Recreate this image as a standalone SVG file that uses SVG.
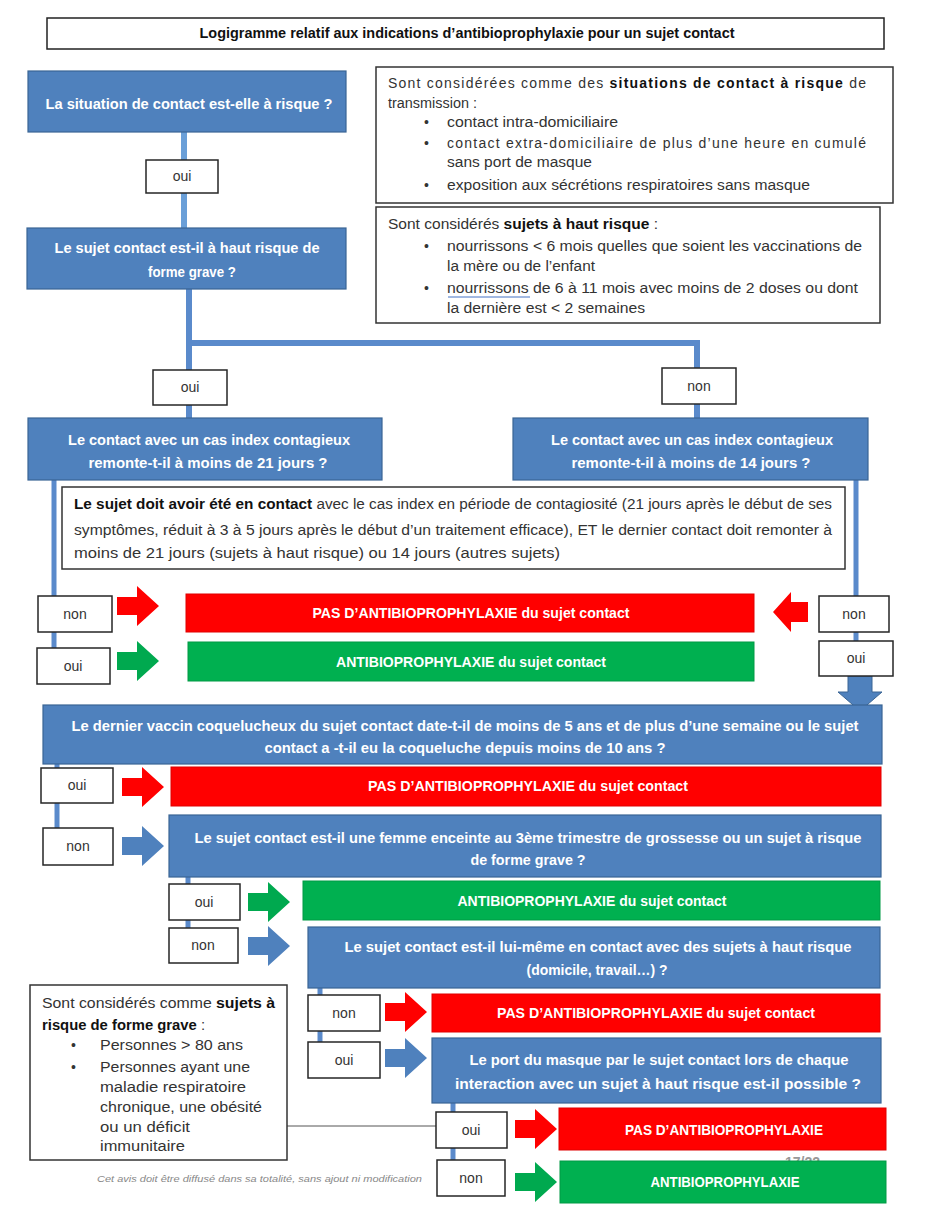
<svg xmlns="http://www.w3.org/2000/svg" xmlns:xlink="http://www.w3.org/1999/xlink" width="928" height="1227" viewBox="0 0 928 1227">
<style>
.bq{fill:#4F81BD;stroke:#3A6594;stroke-width:1.2}
.rd{fill:#FF0000;stroke:#E00000;stroke-width:1}
.gr{fill:#00B050;stroke:#009A45;stroke-width:1}
.lb{fill:#fff;stroke:#262626;stroke-width:1.5}
.info{fill:#fff;stroke:#333;stroke-width:1.5}
.wt{font-family:"Liberation Sans",Arial,sans-serif;font-weight:bold;fill:#fff;font-size:15px;text-anchor:middle}
.lt{font-family:"Liberation Sans",Arial,sans-serif;fill:#333;font-size:14px;text-anchor:middle}
.it{font-family:"Liberation Sans",Arial,sans-serif;fill:#333;font-size:14px}
.b{font-weight:bold;fill:#111}
.conn{stroke:#5A8ACB;fill:none}
.ar-r{fill:#FF0000}
.ar-g{fill:#00A94F}
.ar-b{fill:#4F81BD}
</style>
<defs>
<path id="arR" d="M0,-9 H20 V-20 L42,0 L20,20 V9 H0 Z"/>
<path id="arL" d="M0,0 L18,-20 V-10 H35 V10 H18 V20 Z"/>
</defs>

<g id="title">
<rect x="47" y="18" width="837" height="31" fill="#fff" stroke="#222" stroke-width="1.5"/>
<text x="467" y="38" font-family="Liberation Sans, Arial, sans-serif" font-weight="bold" font-size="14" fill="#111" text-anchor="middle" textLength="535" lengthAdjust="spacingAndGlyphs">Logigramme relatif aux indications d’antibioprophylaxie pour un sujet contact</text>
</g>

<g id="connectors">
<line class="conn" x1="184" y1="132" x2="184" y2="228" stroke-width="6" style="stroke:#6A9FD8"/>
<polyline class="conn" points="189,289 189,343 697,343 697,418" stroke-width="6"/>
<line class="conn" x1="189" y1="343" x2="189" y2="418" stroke-width="6"/>
<line class="conn" x1="54" y1="480" x2="54" y2="648" stroke-width="5"/>
<line class="conn" x1="856" y1="480" x2="856" y2="641" stroke-width="5"/>
<line class="conn" x1="57" y1="764" x2="57" y2="830" stroke-width="5"/>
<line class="conn" x1="188" y1="877" x2="188" y2="928" stroke-width="5"/>
<line class="conn" x1="320" y1="988" x2="320" y2="1044" stroke-width="5"/>
<line class="conn" x1="453" y1="1103" x2="453" y2="1160" stroke-width="5"/>
<line x1="287" y1="1126" x2="437" y2="1126" stroke="#555" stroke-width="1"/>
<path d="M848,676 H872 V692 H882 L860,711 L838,692 H848 Z" fill="#4F81BD" stroke="#3A6594" stroke-width="1"/>
</g>

<g id="q1">
<rect class="bq" x="28" y="71" width="318" height="61"/>
<text class="wt" x="189" y="109" textLength="287" lengthAdjust="spacingAndGlyphs">La situation de contact est-elle à risque ?</text>
</g>
<g id="lbl-oui1"><rect class="lb" x="146" y="160" width="72" height="33"/><text class="lt" x="182" y="181">oui</text></g>

<g id="q2">
<rect class="bq" x="27" y="228" width="319" height="61"/>
<text class="wt" x="187" y="253" textLength="265" lengthAdjust="spacingAndGlyphs">Le sujet contact est-il à haut risque de</text>
<text class="wt" x="192" y="277" textLength="88" lengthAdjust="spacingAndGlyphs">forme grave ?</text>
</g>

<g id="infoA">
<rect class="info" x="376" y="67" width="517" height="136"/>
<text class="it" x="388" y="88" textLength="478" lengthAdjust="spacing">Sont considérées comme des <tspan class="b">situations de contact à risque</tspan> de</text>
<text class="it" x="388" y="108" textLength="89" lengthAdjust="spacingAndGlyphs">transmission :</text>
<text class="it" x="424" y="127">•</text>
<text class="it" x="447" y="127" textLength="171" lengthAdjust="spacingAndGlyphs">contact intra-domiciliaire</text>
<text class="it" x="424" y="148">•</text>
<text class="it" x="447" y="148" textLength="419" lengthAdjust="spacing">contact extra-domiciliaire de plus d’une heure en cumulé</text>
<text class="it" x="447" y="167" textLength="145" lengthAdjust="spacingAndGlyphs">sans port de masque</text>
<text class="it" x="424" y="190">•</text>
<text class="it" x="447" y="190" textLength="363" lengthAdjust="spacingAndGlyphs">exposition aux sécrétions respiratoires sans masque</text>
</g>

<g id="infoB">
<rect class="info" x="376" y="207" width="504" height="116"/>
<text class="it" x="388" y="229" textLength="270" lengthAdjust="spacingAndGlyphs">Sont considérés <tspan class="b">sujets à haut risque</tspan> :</text>
<text class="it" x="424" y="251">•</text>
<text class="it" x="447" y="251" textLength="415" lengthAdjust="spacingAndGlyphs">nourrissons &lt; 6 mois quelles que soient les vaccinations de</text>
<text class="it" x="447" y="271" textLength="148" lengthAdjust="spacingAndGlyphs">la mère ou de l’enfant</text>
<text class="it" x="424" y="293">•</text>
<text class="it" x="447" y="293" textLength="411" lengthAdjust="spacingAndGlyphs">nourrissons de 6 à 11 mois avec moins de 2 doses ou dont</text>
<line x1="448" y1="297" x2="530" y2="297" stroke="#4472C4" stroke-width="1"/>
<text class="it" x="447" y="313" textLength="198" lengthAdjust="spacingAndGlyphs">la dernière est &lt; 2 semaines</text>
</g>

<g id="lbl-oui2"><rect class="lb" x="153" y="370" width="74" height="35"/><text class="lt" x="190" y="392">oui</text></g>
<g id="lbl-non2"><rect class="lb" x="662" y="368" width="74" height="36"/><text class="lt" x="699" y="391">non</text></g>

<g id="q3l">
<rect class="bq" x="28" y="418" width="354" height="62"/>
<text class="wt" x="209" y="445" textLength="282" lengthAdjust="spacingAndGlyphs">Le contact avec un cas index contagieux</text>
<text class="wt" x="208" y="468" textLength="239" lengthAdjust="spacingAndGlyphs">remonte-t-il à moins de 21 jours ?</text>
</g>
<g id="q3r">
<rect class="bq" x="513" y="418" width="355" height="62"/>
<text class="wt" x="692" y="445" textLength="282" lengthAdjust="spacingAndGlyphs">Le contact avec un cas index contagieux</text>
<text class="wt" x="691" y="468" textLength="239" lengthAdjust="spacingAndGlyphs">remonte-t-il à moins de 14 jours ?</text>
</g>

<g id="infoC">
<rect class="info" x="62" y="487" width="783" height="82"/>
<text class="it" x="74" y="509" textLength="758" lengthAdjust="spacingAndGlyphs"><tspan class="b">Le sujet doit avoir été en contact</tspan> avec le cas index en période de contagiosité (21 jours après le début de ses</text>
<text class="it" x="74" y="535" textLength="758" lengthAdjust="spacingAndGlyphs">symptômes, réduit à 3 à 5 jours après le début d’un traitement efficace), ET le dernier contact doit remonter à</text>
<text class="it" x="74" y="558" textLength="486" lengthAdjust="spacingAndGlyphs">moins de 21 jours (sujets à haut risque) ou 14 jours (autres sujets)</text>
</g>

<g id="lbl-non3l"><rect class="lb" x="38" y="596" width="74" height="36"/><text class="lt" x="75" y="619">non</text></g>
<use href="#arR" x="117" y="606" class="ar-r"/>
<g id="r1">
<rect class="rd" x="186" y="594" width="568" height="38"/>
<text class="wt" x="471" y="618" textLength="317" lengthAdjust="spacingAndGlyphs">PAS D’ANTIBIOPROPHYLAXIE du sujet contact</text>
</g>
<use href="#arL" x="773" y="612" class="ar-r"/>
<g id="lbl-non3r"><rect class="lb" x="819" y="596" width="70" height="36"/><text class="lt" x="854" y="619">non</text></g>

<g id="lbl-oui3l"><rect class="lb" x="37" y="648" width="73" height="36"/><text class="lt" x="73" y="671">oui</text></g>
<use href="#arR" x="117" y="661" class="ar-g"/>
<g id="g1">
<rect class="gr" x="188" y="642" width="566" height="39"/>
<text class="wt" x="471" y="667" textLength="270" lengthAdjust="spacingAndGlyphs">ANTIBIOPROPHYLAXIE du sujet contact</text>
</g>
<g id="lbl-oui3r"><rect class="lb" x="819" y="641" width="74" height="35"/><text class="lt" x="856" y="663">oui</text></g>

<g id="q4">
<rect class="bq" x="43" y="705" width="839" height="59"/>
<text class="wt" x="465" y="731" textLength="787" lengthAdjust="spacingAndGlyphs">Le dernier vaccin coquelucheux du sujet contact date-t-il de moins de 5 ans et de plus d’une semaine ou le sujet</text>
<text class="wt" x="465" y="753" textLength="401" lengthAdjust="spacingAndGlyphs">contact a -t-il eu la coqueluche depuis moins de 10 ans ?</text>
</g>

<g id="lbl-oui4"><rect class="lb" x="41" y="768" width="72" height="35"/><text class="lt" x="77" y="790">oui</text></g>
<use href="#arR" x="122" y="787" class="ar-r"/>
<g id="r2">
<rect class="rd" x="171" y="767" width="710" height="39"/>
<text class="wt" x="528" y="791" textLength="320" lengthAdjust="spacingAndGlyphs">PAS D’ANTIBIOPROPHYLAXIE du sujet contact</text>
</g>

<g id="lbl-non4"><rect class="lb" x="43" y="828" width="70" height="37"/><text class="lt" x="78" y="851">non</text></g>
<use href="#arR" x="122" y="846" class="ar-b"/>
<g id="q5">
<rect class="bq" x="169" y="815" width="712" height="62"/>
<text class="wt" x="528" y="843" textLength="667" lengthAdjust="spacingAndGlyphs">Le sujet contact est-il une femme enceinte au 3ème trimestre de grossesse ou un sujet à risque</text>
<text class="wt" x="528" y="865" textLength="115" lengthAdjust="spacingAndGlyphs">de forme grave ?</text>
</g>

<g id="lbl-oui5"><rect class="lb" x="169" y="884" width="71" height="36"/><text class="lt" x="204" y="907">oui</text></g>
<use href="#arR" x="248" y="902" class="ar-g"/>
<g id="g2">
<rect class="gr" x="303" y="881" width="577" height="39"/>
<text class="wt" x="592" y="906" textLength="269" lengthAdjust="spacingAndGlyphs">ANTIBIOPROPHYLAXIE du sujet contact</text>
</g>

<g id="lbl-non5"><rect class="lb" x="169" y="928" width="69" height="35"/><text class="lt" x="203" y="950">non</text></g>
<use href="#arR" x="248" y="946" class="ar-b"/>
<g id="q6">
<rect class="bq" x="308" y="927" width="572" height="61"/>
<text class="wt" x="598" y="952" textLength="507" lengthAdjust="spacingAndGlyphs">Le sujet contact est-il lui-même en contact avec des sujets à haut risque</text>
<text class="wt" x="597" y="975" textLength="141" lengthAdjust="spacingAndGlyphs">(domicile, travail…) ?</text>
</g>

<g id="infoD">
<rect class="info" x="30" y="985" width="257" height="175"/>
<text class="it" x="42" y="1008" textLength="233" lengthAdjust="spacingAndGlyphs">Sont considérés comme <tspan class="b">sujets à</tspan></text>
<text class="it" x="42" y="1030" textLength="163" lengthAdjust="spacingAndGlyphs"><tspan class="b">risque de forme grave</tspan> :</text>
<text class="it" x="71" y="1050">•</text>
<text class="it" x="100" y="1050" textLength="143" lengthAdjust="spacingAndGlyphs">Personnes &gt; 80 ans</text>
<text class="it" x="71" y="1072">•</text>
<text class="it" x="100" y="1072" textLength="150" lengthAdjust="spacingAndGlyphs">Personnes ayant une</text>
<text class="it" x="100" y="1092" textLength="146" lengthAdjust="spacingAndGlyphs">maladie respiratoire</text>
<text class="it" x="100" y="1112" textLength="162" lengthAdjust="spacingAndGlyphs">chronique, une obésité</text>
<text class="it" x="100" y="1132" textLength="90" lengthAdjust="spacingAndGlyphs">ou un déficit</text>
<text class="it" x="100" y="1151" textLength="85" lengthAdjust="spacingAndGlyphs">immunitaire</text>
</g>

<g id="lbl-non6"><rect class="lb" x="308" y="995" width="72" height="36"/><text class="lt" x="344" y="1018">non</text></g>
<use href="#arR" x="385" y="1012" class="ar-r"/>
<g id="r3">
<rect class="rd" x="432" y="994" width="448" height="38"/>
<text class="wt" x="656" y="1018" textLength="318" lengthAdjust="spacingAndGlyphs">PAS D’ANTIBIOPROPHYLAXIE du sujet contact</text>
</g>

<g id="lbl-oui6"><rect class="lb" x="308" y="1042" width="72" height="36"/><text class="lt" x="344" y="1065">oui</text></g>
<use href="#arR" x="385" y="1058" class="ar-b"/>
<g id="q7">
<rect class="bq" x="432" y="1038" width="449" height="65"/>
<text class="wt" x="659" y="1065" textLength="379" lengthAdjust="spacingAndGlyphs">Le port du masque par le sujet contact lors de chaque</text>
<text class="wt" x="658" y="1089" textLength="406" lengthAdjust="spacingAndGlyphs">interaction avec un sujet à haut risque est-il possible ?</text>
</g>

<g id="lbl-oui7"><rect class="lb" x="436" y="1112" width="71" height="36"/><text class="lt" x="471" y="1135">oui</text></g>
<use href="#arR" x="515" y="1129" class="ar-r"/>
<g id="r4">
<rect class="rd" x="559" y="1108" width="327" height="42"/>
<text class="wt" x="724" y="1135" textLength="198" lengthAdjust="spacingAndGlyphs">PAS D’ANTIBIOPROPHYLAXIE</text>
</g>

<text x="785" y="1167" font-family="Liberation Sans, Arial, sans-serif" font-weight="bold" font-size="14" fill="#999">17/22</text>
<text x="97" y="1182" font-family="Liberation Sans, Arial, sans-serif" font-style="italic" font-size="8.5" fill="#888" textLength="325" lengthAdjust="spacingAndGlyphs">Cet avis doit être diffusé dans sa totalité, sans ajout ni modification</text>

<g id="lbl-non7"><rect class="lb" x="437" y="1160" width="68" height="36"/><text class="lt" x="471" y="1183">non</text></g>
<use href="#arR" x="515" y="1182" class="ar-g"/>
<g id="g3">
<rect class="gr" x="560" y="1161" width="326" height="42"/>
<text class="wt" x="725" y="1187" textLength="149" lengthAdjust="spacingAndGlyphs">ANTIBIOPROPHYLAXIE</text>
</g>
</svg>
